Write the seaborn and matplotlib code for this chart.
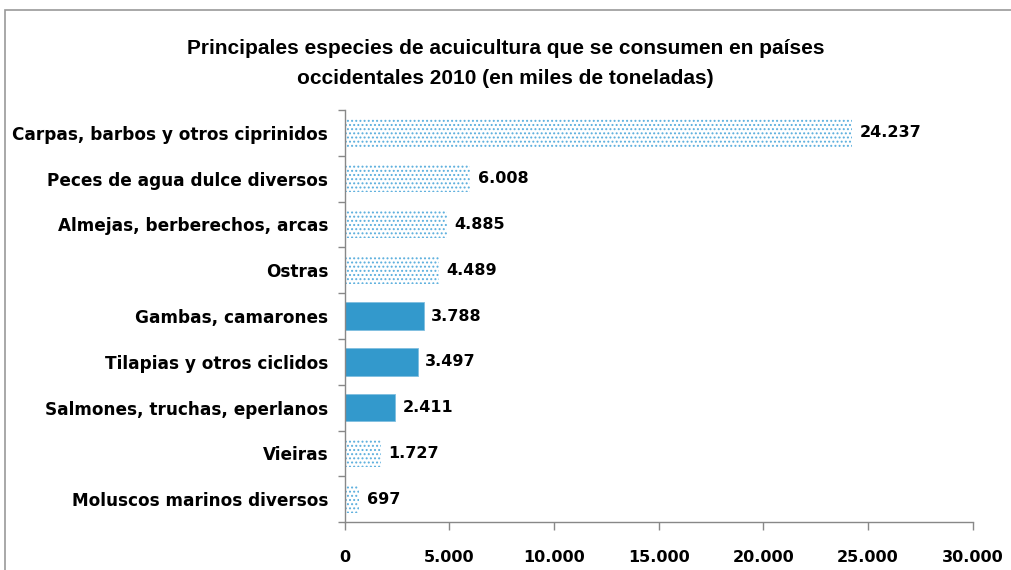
import pandas as pd
import numpy as np
import seaborn as sns
import matplotlib.pyplot as plt
from matplotlib.patches import Rectangle

# Datos
especies = ["Carpas, barbos y otros ciprinidos", "Peces de agua dulce diversos",
            "Almejas, berberechos, arcas", "Ostras", "Gambas, camarones",
            "Tilapias y otros ciclidos", "Salmones, truchas, eperlanos",
            "Vieiras", "Moluscos marinos diversos"]
toneladas = [24237, 6008, 4885, 4489, 3788, 3497, 2411, 1727, 697]
etiquetas = ["24.237", "6.008", "4.885", "4.489", "3.788", "3.497", "2.411", "1.727", "697"]
destacado = [False, False, False, False, True, True, True, False, False]
xticks = [0, 5000, 10000, 15000, 20000, 25000, 30000]
xtick_labels = ["0", "5.000", "10.000", "15.000", "20.000", "25.000", "30.000"]

df = pd.DataFrame({"especie": especies, "miles_t": toneladas})

azul = "#3399cc"
sns.set_style("white")
plt.rcParams['font.family'] = ['DejaVu Sans']
plt.rcParams['text.color'] = "black"
plt.rcParams['hatch.color'] = "#5aaedd"
plt.rcParams['hatch.linewidth'] = 0.9

fig = plt.figure(figsize=(10.11, 5.70), dpi=100)
ax = fig.add_axes([0.341, 0.084, 0.621, 0.723])

sns.barplot(data=df, x="miles_t", y="especie", orient="h", color=azul,
            width=0.6, ax=ax)

for bar, dest in zip(ax.patches, destacado):
    if dest:
        bar.set_facecolor(azul)
        bar.set_edgecolor("#7fbfe0")
        bar.set_linewidth(0.6)
    else:
        bar.set_facecolor("white")
        bar.set_edgecolor("#5aaedd")
        bar.set_hatch("....")
        bar.set_linewidth(0)

for i, (v, lab) in enumerate(zip(toneladas, etiquetas)):
    ax.text(v + 350, i, lab, va="center", ha="left", fontsize=11.5,
            fontweight="bold", color="black")

ax.set_xlim(0, 30000)
ax.set_ylim(len(especies) - 0.5, -0.5)
ax.set_xticks(xticks)
ax.set_xticklabels(xtick_labels, fontsize=11.5, fontweight="bold", color="black")
ax.set_yticks(range(len(especies)))
ax.set_yticklabels(especies, fontsize=12.2, fontweight="bold", color="black")
ax.set_xlabel("")
ax.set_ylabel("")

for s in ["top", "right"]:
    ax.spines[s].set_visible(False)
for s in ["left", "bottom"]:
    ax.spines[s].set_color("#888888")
    ax.spines[s].set_linewidth(1)

# marcas de eje estilo Excel
ax.set_yticks(np.arange(-0.5, len(especies), 1), minor=True)
ax.tick_params(axis="y", which="major", left=True, length=0, pad=12)
ax.tick_params(axis="y", which="minor", left=True, length=5, width=1,
               color="#888888", direction="out")
ax.tick_params(axis="x", which="major", bottom=True, length=6, width=1,
               color="#888888", direction="out", pad=14)

fig.text(0.5, 0.915, "Principales especies de acuicultura que se consumen en países",
         ha="center", va="center", fontsize=15, fontweight="bold", color="black",
         family=['Liberation Sans', 'DejaVu Sans'])
fig.text(0.5, 0.862, "occidentales 2010 (en miles de toneladas)",
         ha="center", va="center", fontsize=15, fontweight="bold", color="black",
         family=['Liberation Sans', 'DejaVu Sans'])

fig.patches.append(Rectangle((0.005, -0.1), 1.1, 1.082, transform=fig.transFigure,
                             fill=False, edgecolor="#999999", linewidth=1.2))

plt.savefig("out.png", dpi=100)
